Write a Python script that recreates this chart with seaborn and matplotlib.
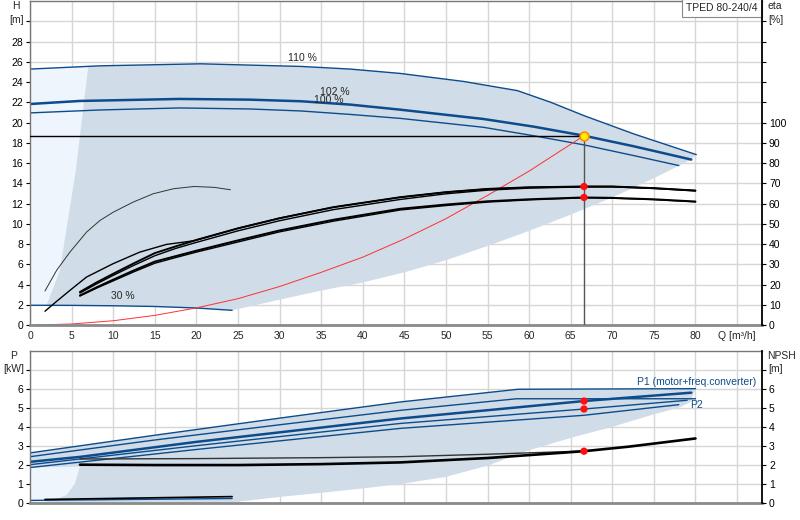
import numpy as np
import pandas as pd
import matplotlib
matplotlib.use("Agg")
import matplotlib.pyplot as plt
import seaborn as sns

# ---- data ----
# head curves, Q [m3/h] / H [m]
q_110 = [0, 8.4, 20.5, 32.6, 38.5, 44.5, 52.1, 58.6, 62.6, 66.6, 72.6, 80.1]
h_110 = [25.28, 25.6, 25.8, 25.54, 25.28, 24.85, 24.06, 23.15, 22.0, 20.68, 18.87, 16.83]
q_102 = [0, 6, 18, 26.4, 32.6, 38.5, 44.5, 54.5, 60.5, 66.6, 72.6, 79.5]
h_102 = [21.83, 22.13, 22.33, 22.26, 22.1, 21.77, 21.27, 20.35, 19.6, 18.7, 17.65, 16.34]
q_100 = [0, 8.4, 18, 26.4, 32.6, 38.5, 44.5, 54.5, 60.5, 66.6, 72.6, 78]
h_100 = [20.95, 21.24, 21.44, 21.34, 21.14, 20.8, 20.41, 19.53, 18.7, 17.79, 16.73, 15.75]
q_30 = [0, 5, 10, 15, 20, 24.3]
h_30 = [1.95, 1.94, 1.9, 1.83, 1.68, 1.45]

# system curve (red)
q_sys = [0.6, 5, 10, 15, 20, 25, 30, 35, 40, 45, 50, 55, 60, 66.6]
h_sys = [0, 0.1, 0.42, 0.95, 1.69, 2.6, 3.8, 5.2, 6.7, 8.5, 10.5, 12.8, 15.2, 18.7]

# operating point
op_q, op_h = 66.6, 18.7

# efficiency curves, eta [%]
q_eta_a = [1.8, 3.2, 4.8, 6.8, 8.4, 10, 12.4, 14.8, 17.25, 19.7, 22.1, 24.1]
eta_a = [16.8, 27, 36, 45.9, 51.6, 55.7, 60.7, 64.8, 67.3, 68.4, 68, 66.8]
q_eta_b = [1.8, 3, 4.8, 6.8, 10, 13.2, 16.4, 19.7, 25, 30, 36.5, 44.5, 50, 55, 60, 66.6, 70, 75, 80]
eta_b = [6.8, 11, 17.1, 23.7, 30.3, 36, 39.8, 41.6, 47.8, 52.8, 58.2, 63.1, 65.6, 67.2, 68, 68.4, 68.4, 67.6, 66.4]
q_eta = [6, 8, 10, 12.5, 15, 17.5, 20, 25, 30, 36.5, 44.5, 50, 55, 60, 66.6, 70, 75, 80]
eta_c1 = [16.3, 21, 25.3, 30.5, 35.5, 38.8, 42, 47.7, 52.7, 58.2, 63.1, 65.6, 67.2, 68, 68.4, 68.4, 67.6, 66.4]
eta_c2 = [15.8, 20.3, 24.5, 29.5, 34.2, 37.8, 40.8, 46.5, 51.5, 57, 62, 64.8, 66.6, 67.6, 68.2, 68.2, 67.4, 66.2]
eta_c3 = [14.6, 18.6, 22.4, 27, 31.3, 34, 36.7, 41.8, 46.7, 52, 57.4, 59.5, 61.1, 62.1, 63, 62.8, 62.1, 61]
eta_c4 = [14.3, 18.2, 21.8, 26.3, 30.5, 33.3, 36, 41, 46, 51.3, 56.8, 59, 60.7, 61.8, 62.8, 62.6, 61.9, 60.8]
eta_pts = [68.4, 63]

# shaded operating range (upper panel)
q_range_low = [79.4, 75, 70, 65, 60, 55, 50, 45, 40, 35, 30, 24.3]
h_range_low = [16.3, 14.5, 12.6, 10.9, 9.3, 7.8, 6.4, 5.2, 4.2, 3.4, 2.5, 1.45]
q_edge = [2.0, 3.6, 4.8, 5.5, 7.0]
h_edge = [1.95, 5.4, 11.6, 15.2, 25.5]

# power curves, P [kW]
q_p1 = [0, 15, 30, 44.5, 58.7, 80]
p_p1 = [2.62, 3.55, 4.45, 5.3, 5.97, 6.0]
q_p2 = [0, 15, 30, 44.5, 58.5, 80]
p_p2 = [2.42, 3.3, 4.1, 4.86, 5.47, 5.47]
q_p3 = [0, 6, 20, 44.5, 66.6, 79.5]
p_p3 = [2.15, 2.41, 3.2, 4.43, 5.35, 5.79]
q_p4 = [0, 20, 44.5, 66.6, 79]
p_p4 = [2.0, 3.0, 4.17, 4.93, 5.39]
q_p5 = [0, 20, 44.5, 66.6, 78]
p_p5 = [1.85, 2.8, 3.91, 4.6, 5.16]
q_p30a = [0, 24.3]
p_p30a = [0.12, 0.22]
q_p30b = [1.8, 24.3]
p_p30b = [0.17, 0.32]
p_pts = [5.35, 4.93]

# NPSH [m]
q_npsh = [6, 15, 25, 35, 44.5, 55, 66.6, 72, 80]
npsh = [2.0, 1.98, 1.98, 2.03, 2.12, 2.35, 2.71, 2.95, 3.38]
q_npsh2 = [6, 20, 35, 44.5, 55, 66.6]
npsh2 = [2.3, 2.32, 2.37, 2.42, 2.55, 2.72]
npsh_pt = 2.71

# shaded range (lower panel)
q_prange_low = [79.4, 78.2, 74.6, 70, 65.4, 60, 55, 50, 44.5, 40, 35, 30, 24.3]
p_prange_low = [5.3, 5.03, 4.6, 3.99, 3.46, 2.76, 1.95, 1.36, 0.98, 0.75, 0.52, 0.3, 0.02]
q_pedge = [0, 1.2, 2.8, 4.4, 5.4, 6.0, 0]
p_pedge = [0, 0, 0.14, 0.4, 1.0, 1.9, 1.85]

q_ticks = list(range(0, 81, 5))

# ---- style ----
sns.set_theme(style="white")
plt.rcParams['font.family'] = ['Liberation Sans', 'DejaVu Sans']
FS = 7.5
plt.rcParams['font.size'] = FS

BLUE = '#0d4c8c'
DARK = '#d0dce7'
LIGHT = '#eef5fc'
GRID = '#d6d6d6'
RED = '#ff1010'


def curve(ax, x, y, color, lw):
    sns.lineplot(x=x, y=y, ax=ax, color=color, lw=lw, sort=False,
                 estimator=None, legend=False)


def frame(ax, ymax, step, lab_max, top_lab, unit_lab, rlab_max, rtop, runit,
          rscale, ltop_x):
    ax.set_xlim(0, 88)
    ax.set_ylim(0, ymax)
    ax.set_xticks(list(range(0, 90, 5)))
    ax.set_yticks(np.arange(0, ymax, step))
    ax.grid(True, color=GRID, lw=1.0)
    ax.set_axisbelow(True)
    ax.set_yticklabels([f'{v:g}' if v <= lab_max else '' for v in ax.get_yticks()])
    ax.tick_params(axis='y', direction='out', length=3, width=0.8, pad=2,
                   left=True, colors='black', labelsize=FS)
    ax.tick_params(axis='x', length=0, pad=4, labelsize=FS)
    for s in ['left', 'top']:
        ax.spines[s].set_color('#777777')
        ax.spines[s].set_linewidth(1.0)
    ax.spines['bottom'].set_color('#8a8a8a')
    ax.spines['bottom'].set_linewidth(2.0)
    ax.spines['right'].set_visible(False)
    tr = ax.get_yaxis_transform()
    y_unit = ymax - step * 0.95
    y_top = ymax - step * 0.26
    ax.text(-0.008, y_unit, unit_lab, transform=tr, ha='right', va='center', fontsize=FS)
    ax.text(ltop_x, y_top, top_lab, transform=tr, ha='center', va='center', fontsize=FS)
    tw = ax.twinx()
    tw.set_ylim(0, ymax * rscale)
    tw.set_yticks(np.arange(0, ymax * rscale, step * rscale))
    tw.set_yticklabels([f'{v:g}' if v <= rlab_max else '' for v in tw.get_yticks()])
    tw.tick_params(axis='y', direction='out', length=3, width=0.8, pad=2,
                   right=True, colors='black', labelsize=FS)
    for s in ['left', 'top', 'bottom']:
        tw.spines[s].set_visible(False)
    tw.spines['right'].set_color('black')
    tw.spines['right'].set_linewidth(1.3)
    tw.grid(False)
    ax.text(1.008, y_unit, runit, transform=tr, ha='left', va='center', fontsize=FS)
    ax.text(1.007, y_top, rtop, transform=tr, ha='left', va='center', fontsize=FS)
    return tw


fig = plt.figure(figsize=(8, 5.2), dpi=100)
ax1 = fig.add_axes([0.0375, 0.375, 0.915, 0.623])
ax2 = fig.add_axes([0.0375, 0.0333, 0.915, 0.2923])

# ---- upper panel: H / eta ----
tw1 = frame(ax1, 32, 2, 28, 'H', '[m]', 100, 'eta', '[%]', 5, -0.019)
ax1.set_xticklabels([str(v) for v in q_ticks] + ['Q [m³/h]'])

ax1.fill(q_110 + q_range_low + q_30[::-1], h_110 + h_range_low + h_30[::-1],
         color=DARK, lw=0, zorder=1)
ax1.fill([0] + q_edge + q_110[:1], [h_30[0]] + h_edge + h_110[:1],
         color=LIGHT, lw=0, zorder=1)

curve(ax1, q_110, h_110, BLUE, 1.0)
curve(ax1, q_102, h_102, BLUE, 1.8)
curve(ax1, q_100, h_100, BLUE, 1.0)
curve(ax1, q_30, h_30, BLUE, 1.0)
curve(ax1, q_sys, h_sys, '#ff3030', 0.7)
ax1.plot([0, op_q], [op_h, op_h], color='black', lw=1.0, zorder=3)
ax1.plot([op_q, op_q], [0, op_h], color='#555555', lw=1.0, zorder=3)
ax1.text(32.7, 26.4, '110 %', ha='center', va='center', fontsize=FS)
ax1.text(36.7, 23.0, '102 %', ha='center', va='center', fontsize=FS)
ax1.text(35.9, 22.2, '100 %', ha='center', va='center', fontsize=FS)
ax1.text(11.2, 2.85, '30 %', ha='center', va='center', fontsize=FS)
ax1.text(0.9945, 0.993, 'TPED 80-240/4', transform=ax1.transAxes, ha='right',
         va='top', fontsize=FS,
         bbox=dict(boxstyle='square,pad=0.4', fc='white', ec='#888888', lw=0.8))

curve(tw1, q_eta_a, eta_a, '#333333', 0.7)
curve(tw1, q_eta_b, eta_b, 'black', 1.0)
curve(tw1, q_eta, eta_c1, 'black', 1.4)
curve(tw1, q_eta, eta_c2, 'black', 1.0)
curve(tw1, q_eta, eta_c3, 'black', 1.4)
curve(tw1, q_eta, eta_c4, 'black', 1.0)
sns.scatterplot(x=[op_q] * len(eta_pts), y=eta_pts, ax=tw1, color=RED,
                s=28, edgecolor='none', zorder=5, legend=False)
ax1.scatter([op_q], [op_h], s=40, color='#ffee00', edgecolor='#ff8c00',
            lw=1.2, zorder=6)

# ---- lower panel: P / NPSH ----
tw2 = frame(ax2, 8, 1, 6, 'P', '[kW]', 6, 'NPSH', '[m]', 1, -0.0225)
ax2.set_xticklabels([])

ax2.fill(q_p1 + q_prange_low + [0], p_p1 + p_prange_low + [0],
         color=DARK, lw=0, zorder=1)
ax2.fill(q_pedge, p_pedge, color=LIGHT, lw=0, zorder=1)

curve(ax2, q_p1, p_p1, BLUE, 1.0)
curve(ax2, q_p2, p_p2, BLUE, 1.0)
curve(ax2, q_p3, p_p3, BLUE, 1.8)
curve(ax2, q_p4, p_p4, BLUE, 1.0)
curve(ax2, q_p5, p_p5, BLUE, 1.0)
curve(ax2, q_p30a, p_p30a, BLUE, 1.0)
curve(ax2, q_p30b, p_p30b, 'black', 1.2)
sns.scatterplot(x=[op_q] * len(p_pts), y=p_pts, ax=ax2, color=RED,
                s=28, edgecolor='none', zorder=5, legend=False)
ax2.text(73, 6.34, 'P1 (motor+freq.converter)', color=BLUE, fontsize=FS,
         ha='left', va='center')
ax2.text(79.3, 5.12, 'P2', color=BLUE, fontsize=FS, ha='left', va='center')

curve(tw2, q_npsh2, npsh2, '#333333', 1.0)
curve(tw2, q_npsh, npsh, 'black', 1.9)
sns.scatterplot(x=[op_q], y=[npsh_pt], ax=tw2, color=RED, s=28,
                edgecolor='none', zorder=5, legend=False)

fig.savefig('out.png', dpi=100)
